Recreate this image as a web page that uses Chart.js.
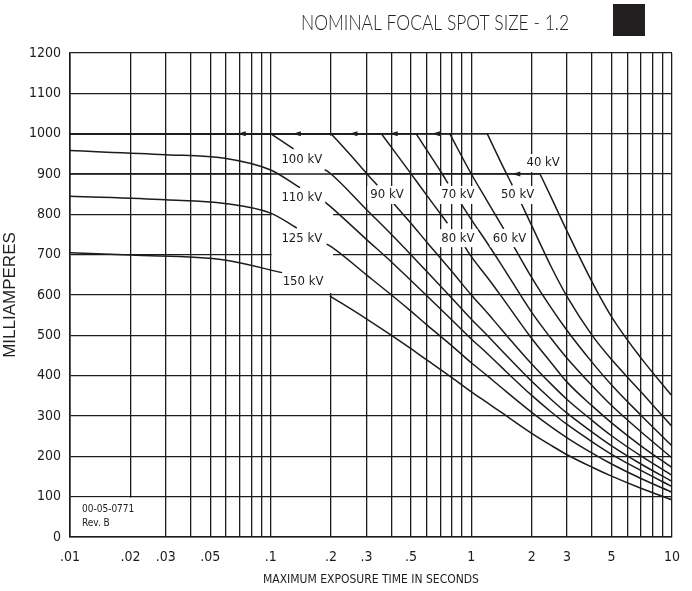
<!DOCTYPE html>
<html lang="en">
<head>
<meta charset="UTF-8">
<title>Nominal Focal Spot Size - 1.2</title>
<script src="https://cdn.jsdelivr.net/npm/chart.js"></script>
<style>
  body { margin: 0; background: #fff; }
</style>
</head>
<body>
<canvas id="rating" width="692" height="591"></canvas>
<script>
// exposure time (s) / tube current (mA), null = gap behind a label
const kv40T  = [0.01, 2.2, 2.5, 3, 4, 5, 7, 10];
const kv40Ma = [900, 900, 842, 758, 632, 546, 444, 350];
const kv50T  = [0.01, 1.2, 1.4, 1.6, 1.7, 1.77, 2, 2.5, 3, 4, 5, 7, 10];
const kv50Ma = [1000, 1000, 930, 872, null, 828, 772, 670, 596, 500, 440, 360, 274];
const kv60T  = [0.01, 0.78, 1, 1.2, 1.45, 1.55, 1.63, 2, 2.5, 3, 4, 5, 7, 10];
const kv60Ma = [1000, 1000, 900, 833, 764, null, 720, 643, 568, 512, 433, 377, 302, 226];
const kv70T  = [0.01, 0.53, 0.6, 0.7, 0.765, 0.83, 0.89, 1, 1.2, 1.4, 2, 2.5, 3, 4, 5, 7, 10];
const kv70Ma = [1000, 1000, 959, 908, 877, null, 826, 787, 729, 678, 557, 492, 443, 375, 326, 261, 196];
const kv80T  = [0.01, 0.356, 0.4, 0.5, 0.6, 0.7, 0.76, 0.85, 0.93, 1, 1.2, 1.4, 2, 2.5, 3, 4, 5, 7, 10];
const kv80Ma = [1000, 1000, 966, 901, 847, 802, 778, null, 719, 695, 644, 599, 492, 432, 384, 325, 283, 226, 172];
const kv90T  = [0.01, 0.2, 0.25, 0.3, 0.34, 0.37, 0.405, 0.5, 0.6, 0.8, 1, 1.2, 1.4, 2, 2.5, 3, 4, 5, 7, 10];
const kv90Ma = [1000, 1000, 947, 902, 872, null, 830, 778, 731, 658, 600, 556, 517, 429, 379, 341, 289, 251, 201, 153];
const kv100T  = [0.01, 0.1, 0.13, 0.16, 0.186, 0.2, 0.3, 0.4, 0.5, 0.6, 0.8, 1, 1.2, 1.4, 2, 2.5, 3, 4, 5, 7, 10];
const kv100Ma = [1000, 1000, 962, null, 911, 900, 812, 750, 700, 658, 592, 540, 500, 465, 386, 341, 307, 260, 226, 181, 138];
const kv110T  = [0.01, 0.03, 0.059, 0.1, 0.14, 0.16, 0.186, 0.2, 0.3, 0.4, 0.5, 0.6, 0.8, 1, 1.2, 1.4, 2, 2.5, 3, 4, 5, 7, 10];
const kv110Ma = [958, 948, 939, 910, 866, null, 831, 818, 738, 682, 636, 598, 538, 491, 455, 423, 351, 310, 279, 236, 205, 165, 125];
const kv125T  = [0.01, 0.03, 0.059, 0.1, 0.135, 0.16, 0.19, 0.2, 0.3, 0.4, 0.5, 0.6, 0.8, 1, 1.2, 1.4, 2, 2.5, 3, 4, 5, 7, 10];
const kv125Ma = [845, 836, 827, 803, 766, null, 726, 720, 650, 600, 560, 526, 474, 432, 400, 372, 309, 273, 246, 208, 181, 145, 111];
const kv150T  = [0.01, 0.02, 0.059, 0.114, 0.15, 0.197, 0.3, 0.4, 0.5, 0.6, 0.8, 1, 1.2, 1.4, 2, 2.5, 3, 4, 5, 7, 10];
const kv150Ma = [705, 699, 687, 655, null, 598, 541, 500, 467, 439, 395, 360, 333, 310, 257, 227, 204, 173, 151, 121, 92];

const curveNames = ['40 kV', '50 kV', '60 kV', '70 kV', '80 kV', '90 kV', '100 kV', '110 kV', '125 kV', '150 kV'];
const curveT  = [kv40T, kv50T, kv60T, kv70T, kv80T, kv90T, kv100T, kv110T, kv125T, kv150T];
const curveMa = [kv40Ma, kv50Ma, kv60Ma, kv70Ma, kv80Ma, kv90Ma, kv100Ma, kv110Ma, kv125Ma, kv150Ma];
// curves that run flat along a generator limit before breaking downward
const flatStart = [true, true, true, true, true, true, true, false, false, false];

// where each kV label sits on the sheet
const labelT  = [2.28, 1.70, 1.55, 0.857, 0.857, 0.38, 0.143, 0.143, 0.143, 0.145];
const labelMa = [927, 848, 741, 848, 741, 848, 935, 841, 741, 632];

// little arrowheads on the limit lines
const arrowT  = [0.0686, 0.129, 0.247, 0.392, 0.637, 1.6];
const arrowMa = [1000, 1000, 1000, 1000, 1000, 900];

const xTickValues = [0.01, 0.02, 0.03, 0.05, 0.1, 0.2, 0.3, 0.5, 1, 2, 3, 5, 10];
const xTickLabels = ['.01', '.02', '.03', '.05', '.1', '.2', '.3', '.5', '1', '2', '3', '5', '10'];

const ink = '#1c1c1c';
const tech = '"Liberation Sans Narrow", "DejaVu Sans Condensed", "Liberation Sans", sans-serif';

// grid verticals at 1..9 of every decade
const gridTimes = [];
[0.01, 0.1, 1].forEach(function(d) {
  for (let k = 1; k < 10; k++) gridTimes.push(+(k * d).toPrecision(3));
});
gridTimes.push(10);

function pts(ts, ms) {
  return ts.map(function(t, j) { return { x: t, y: ms[j] }; });
}

const datasets = [];
curveNames.forEach(function(name, i) {
  const line = { borderColor: ink, borderWidth: 1.5, pointRadius: 0, spanGaps: false, fill: false };
  if (flatStart[i]) {
    // straight run along the limit, then the falling part on its own so the corner stays sharp
    datasets.push(Object.assign({ label: name + ' limit', data: pts(curveT[i].slice(0, 2), curveMa[i].slice(0, 2)), tension: 0 }, line));
    datasets.push(Object.assign({ label: name, data: pts(curveT[i].slice(1), curveMa[i].slice(1)), cubicInterpolationMode: 'monotone' }, line));
  } else {
    datasets.push(Object.assign({ label: name, data: pts(curveT[i], curveMa[i]), cubicInterpolationMode: 'monotone' }, line));
  }
});

const sheetPlugin = {
  id: 'sheet',
  beforeDatasetsDraw(chart) {
    const ctx = chart.ctx, x = chart.scales.x, y = chart.scales.y;
    ctx.save();
    ctx.fillStyle = '#fff';
    // blank block behind the left-hand labels
    ctx.fillRect(x.getPixelForValue(0.1) + 1, y.getPixelForValue(995), x.getPixelForValue(0.2) - x.getPixelForValue(0.1) + 1, y.getPixelForValue(605) - y.getPixelForValue(995));
    // drawing number box
    ctx.fillRect(x.getPixelForValue(0.01) + 1, y.getPixelForValue(100) + 1, x.getPixelForValue(0.02) - x.getPixelForValue(0.01) + 1, y.getPixelForValue(0) - y.getPixelForValue(100) - 2);
    ctx.fillStyle = ink;
    ctx.font = '10px ' + tech;
    ctx.textBaseline = 'middle';
    ctx.fillText('00-05-0771', x.getPixelForValue(0.01) + 12, y.getPixelForValue(68));
    ctx.fillText('Rev. B', x.getPixelForValue(0.01) + 12, y.getPixelForValue(33));
    ctx.restore();
  },
  afterDatasetsDraw(chart) {
    const ctx = chart.ctx, x = chart.scales.x, y = chart.scales.y;
    ctx.save();
    ctx.font = '13px ' + tech;
    ctx.textAlign = 'center';
    ctx.textBaseline = 'middle';
    curveNames.forEach(function(name, i) {
      const px = x.getPixelForValue(labelT[i]), py = y.getPixelForValue(labelMa[i]);
      const w = ctx.measureText(name).width + 6;
      ctx.fillStyle = '#fff';
      ctx.fillRect(px - w / 2, py - 9, w, 18);
      ctx.fillStyle = ink;
      ctx.fillText(name, px, py);
    });
    ctx.fillStyle = ink;
    arrowT.forEach(function(t, i) {
      const px = x.getPixelForValue(t), py = y.getPixelForValue(arrowMa[i]);
      ctx.beginPath();
      ctx.moveTo(px, py);
      ctx.lineTo(px + 8, py - 2.5);
      ctx.lineTo(px + 8, py + 2.5);
      ctx.closePath();
      ctx.fill();
    });
    ctx.restore();
  },
  afterDraw(chart) {
    const ctx = chart.ctx;
    ctx.save();
    ctx.fillStyle = '#231f20';
    ctx.font = '300 22px Lato, "Open Sans", sans-serif';
    ctx.textAlign = 'right';
    ctx.textBaseline = 'alphabetic';
    ctx.fillText('NOMINAL FOCAL SPOT SIZE - 1.2', 569, 30, 268);
    ctx.fillRect(613, 4, 32, 32);
    ctx.restore();
  }
};

new Chart(document.getElementById('rating'), {
  type: 'line',
  data: { datasets: datasets },
  options: {
    responsive: false,
    animation: false,
    events: [],
    layout: { padding: { top: 53, right: 19, left: 0, bottom: 0 } },
    plugins: {
      legend: { display: false },
      tooltip: { enabled: false }
    },
    scales: {
      x: {
        type: 'logarithmic',
        min: 0.01,
        max: 10,
        afterBuildTicks: function(scale) {
          scale.ticks = gridTimes.map(function(v) { return { value: v }; });
        },
        afterFit: function(scale) { scale.height = 54; },
        grid: { color: ink, lineWidth: 1.3, drawTicks: false },
        border: { color: ink, width: 1.6 },
        ticks: {
          autoSkip: false,
          maxRotation: 0,
          padding: 12,
          color: ink,
          font: { family: tech, size: 14 },
          callback: function(value) {
            const i = xTickValues.findIndex(function(v) { return Math.abs(v - value) < v * 1e-6; });
            return i < 0 ? '' : xTickLabels[i];
          }
        },
        title: {
          display: true,
          text: 'MAXIMUM EXPOSURE TIME IN SECONDS',
          color: ink,
          font: { family: tech, size: 12 },
          padding: { top: 0, bottom: 4 }
        }
      },
      y: {
        min: 0,
        max: 1200,
        afterFit: function(scale) { scale.width = 70; },
        grid: { color: ink, lineWidth: 1.3, drawTicks: false },
        border: { color: ink, width: 1.6 },
        ticks: {
          stepSize: 100,
          padding: 9,
          color: ink,
          font: { family: tech, size: 14 },
          callback: function(value) { return String(value); }
        },
        title: {
          display: true,
          text: 'MILLIAMPERES',
          color: '#231f20',
          font: { family: '"Liberation Sans", Arial, sans-serif', size: 17 },
          padding: { top: 0, bottom: 0 }
        }
      }
    }
  },
  plugins: [sheetPlugin]
});
</script>
</body>
</html>
